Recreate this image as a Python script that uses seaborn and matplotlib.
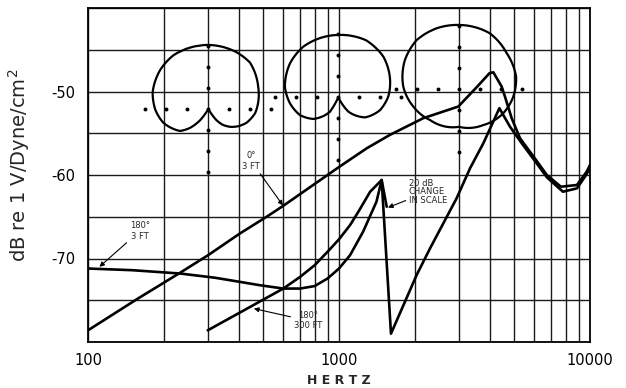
import numpy as np
import matplotlib
matplotlib.use("Agg")
import matplotlib.pyplot as plt
import seaborn as sns

# ---------------------------------------------------------
# data
# ---------------------------------------------------------

# 0 deg, 3 ft
zero_3ft_hz = [100, 158, 233, 301, 403, 515, 599, 1005, 1290, 1594, 2165, 2988,
               3532, 3980, 4120, 4445, 4582, 4875, 5263, 6095, 6730, 7655, 8870,
               9700, 10000]
zero_3ft_db = [-78.6, -74.8, -71.7, -69.6, -67.0, -65.0, -63.7, -59.0, -56.8,
               -55.2, -53.2, -51.8, -49.5, -47.8, -47.7, -49.4, -50.6, -53.2,
               -55.6, -58.2, -60.0, -61.4, -61.2, -59.6, -58.8]

# 180 deg, 3 ft
rear_3ft_hz = [100, 150, 233, 320, 403, 484, 600, 700, 800, 900, 1000, 1107,
               1247, 1410, 1479, 1549]
rear_3ft_db = [-71.2, -71.4, -71.8, -72.3, -72.8, -73.2, -73.6, -73.6, -73.3,
               -72.4, -71.2, -69.6, -66.8, -63.2, -60.6, -63.8]

# 180 deg, 300 ft (20 dB change in scale after the notch)
rear_300ft_hz = [300, 600, 700, 800, 900, 1000, 1107, 1200, 1331, 1479, 1611,
                 2037, 2304, 2940, 3327, 3759, 4355, 4797, 5346, 6095, 6745,
                 7800, 8870, 9700, 10000]
rear_300ft_db = [-78.6, -73.6, -72.2, -70.8, -69.2, -67.7, -66.0, -64.3, -62.0,
                 -60.6, -79.0, -72.0, -68.8, -62.8, -59.2, -56.2, -52.0, -54.2,
                 -56.2, -58.5, -60.3, -62.0, -61.6, -59.9, -59.1]

# polar patterns (angle clockwise from front, radius in dot-ring units)
polar1_deg = [0, 26, 42, 66, 95, 110, 120, 129, 138, 144, 148, 152, 208, 212,
              216, 224, 232, 253, 269, 287, 309, 327, 360]
polar1_r = [3.05, 3.02, 2.97, 2.60, 2.24, 1.93, 1.64, 1.35, 1.00, 0.65, 0.20,
            0.0, 0.0, 0.20, 0.65, 1.25, 1.70, 2.24, 2.52, 2.77, 2.95, 3.05, 3.05]

polar2_deg = [0, 26, 48, 71.5, 89, 107, 127, 145, 152, 156, 204, 206, 210, 229,
              245, 263, 281, 305, 325, 360]
polar2_r = [2.97, 3.02, 2.89, 2.60, 2.38, 2.08, 1.59, 0.83, 0.20, 0.0, 0.0, 0.20,
            0.79, 1.57, 2.01, 2.32, 2.59, 2.81, 2.93, 2.97]

polar3_deg = [0, 29, 53, 78, 98, 119, 146, 180, 223, 249, 272, 298, 319, 340, 360]
polar3_r = [3.05, 3.03, 2.84, 2.78, 2.61, 2.40, 2.07, 1.80, 2.02, 2.33, 2.65,
            2.92, 3.08, 3.08, 3.05]

ring_deg = [0, 90, 180, 270]
ring_r = [1, 2, 3]

x_ticks = [100, 1000, 10000]
x_ticklabels = ["100", "1000", "10000"]
y_ticks = [-80, -75, -70, -65, -60, -55, -50, -45, -40]
y_ticklabels = ["", "", "-70", "", "-60", "", "-50", "", ""]

# ---------------------------------------------------------
# figure
# ---------------------------------------------------------

sns.set_style("white")
plt.rcParams["font.family"] = ["DejaVu Sans"]

fig = plt.figure(figsize=(6.26, 3.88), dpi=100)
ax = fig.add_axes([88 / 626, 46 / 388, 502 / 626, 334 / 388])

ax.set_xscale("log")
ax.set_xlim(100, 10000)
ax.set_ylim(-80, -40)

ax.set_xticks(x_ticks)
ax.set_xticklabels(x_ticklabels)
minor_x = [m * d for d in (100, 1000) for m in range(2, 10)]
ax.set_xticks(minor_x, minor=True)
ax.set_yticks(y_ticks)
ax.set_yticklabels(y_ticklabels)

ax.grid(True, which="both", color="#1a1a1a", lw=1.0)
ax.tick_params(which="both", length=0, labelsize=10.5, colors="black")
ax.tick_params(axis="x", pad=8)
ax.tick_params(axis="y", pad=9)
for s in ax.spines.values():
    s.set_color("black")
    s.set_linewidth(1.3)

curves = [
    (zero_3ft_hz, zero_3ft_db),
    (rear_3ft_hz, rear_3ft_db),
    (rear_300ft_hz, rear_300ft_db),
]
for hz, db in curves:
    sns.lineplot(x=hz, y=db, ax=ax, sort=False, estimator=None,
                 color="black", lw=1.9, zorder=3)

ax.set_xlabel("H E R T Z", fontsize=9, fontweight="bold", labelpad=4)
ax.set_ylabel("dB re 1 V/Dyne/cm$^2$", fontsize=14)
ax.yaxis.set_label_coords(-0.112, 0.53)

# annotations
arrow = dict(arrowstyle="-|>", lw=0.8, color="black", mutation_scale=7,
             shrinkA=0, shrinkB=0)
ax.annotate("0°\n3 FT", xy=(598, -63.65), xytext=(446, -58.3),
            fontsize=6, ha="center", va="center", arrowprops=arrow)
ax.annotate("180°\n3 FT", xy=(111, -71.0), xytext=(161, -66.7),
            fontsize=6, ha="center", va="center", arrowprops=arrow)
ax.annotate("180°\n300 FT", xy=(458, -76.0), xytext=(752, -77.45),
            fontsize=6, ha="center", va="center", arrowprops=arrow)
ax.annotate("20 dB\nCHANGE\nIN SCALE", xy=(1567, -63.9), xytext=(1900, -62.0),
            fontsize=6, ha="left", va="center", linespacing=0.95,
            arrowprops=arrow)

# polar patterns as transparent polar insets
centers = [(208.3, 109), (338.3, 97.3), (459, 89)]
patterns = [(polar1_deg, polar1_r), (polar2_deg, polar2_r), (polar3_deg, polar3_r)]
for (cx, cy), (deg, r) in zip(centers, patterns):
    pax = fig.add_axes([(cx - 84) / 626, (388 - cy - 84) / 388, 168 / 626, 168 / 388],
                       projection="polar")
    pax.set_theta_zero_location("N")
    pax.set_theta_direction(-1)
    line, = pax.plot(np.deg2rad(deg), r, color="black", lw=1.6)
    # let the polar transform draw each segment as a curve
    line.get_path()._interpolation_steps = 40
    dot_t = [0.0] + [np.deg2rad(a) for a in ring_deg for _ in ring_r]
    dot_r = [0.0] + [rr for _ in ring_deg for rr in ring_r]
    pax.scatter(dot_t, dot_r, s=8, color="black", linewidths=0)
    pax.set_ylim(0, 4)
    pax.set_axis_off()

fig.savefig("out.png", dpi=100)
